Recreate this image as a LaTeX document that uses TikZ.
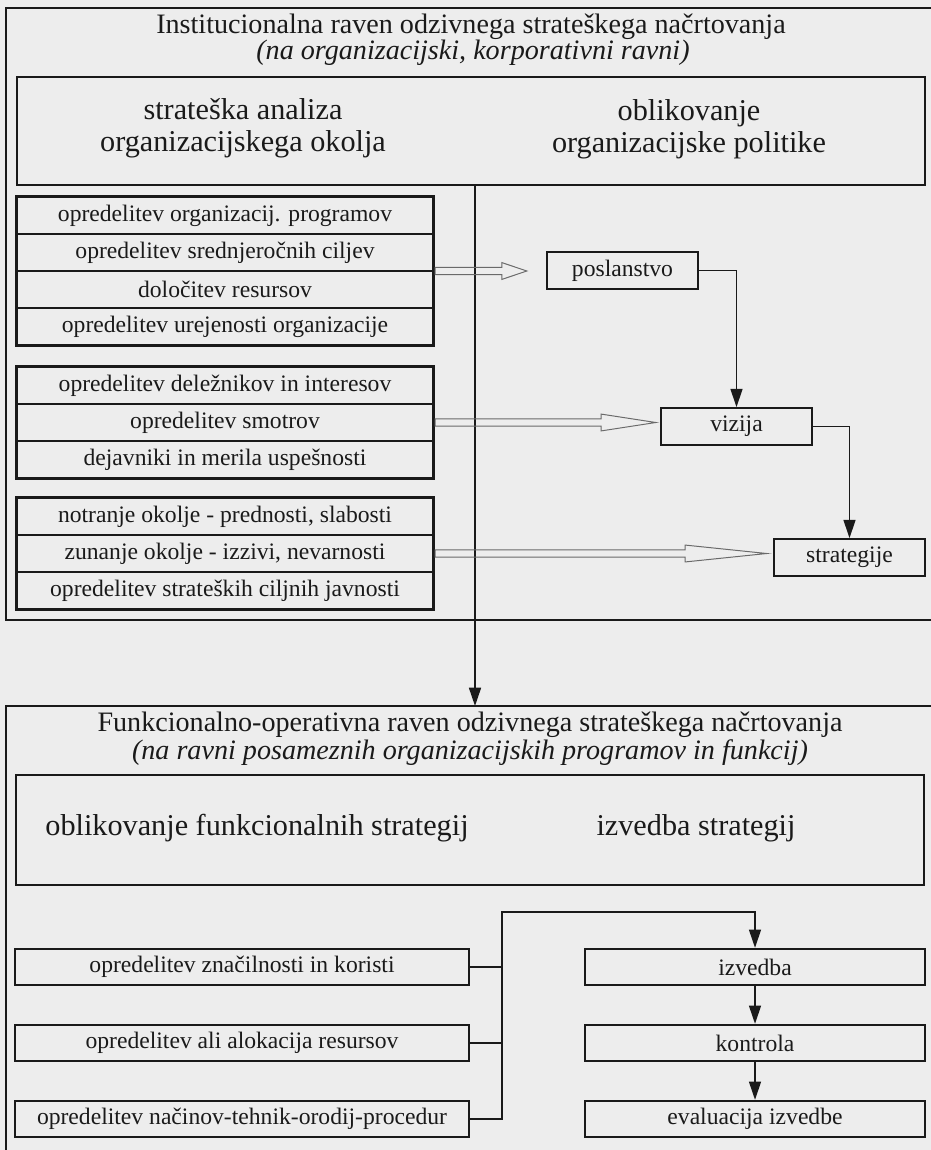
\documentclass[tikz,border=0pt]{standalone}
\usepackage{fontspec}
\setmainfont{Liberation Serif}
\usetikzlibrary{arrows.meta,positioning,calc,fit}
\definecolor{paper}{HTML}{EDEDED}
\definecolor{ink}{HTML}{1A1A1A}
\definecolor{hollowink}{HTML}{6A6A6A}
\newcommand{\rowfont}{\fontsize{16.8}{18}\selectfont}
\newcommand{\hdrfont}{\fontsize{21.5}{22.5}\selectfont}
\newcommand{\ttlfont}{\fontsize{20}{21}\selectfont}

\begin{document}
\begin{tikzpicture}[x=0.025cm, y=-0.025cm,
  row/.style={rectangle, draw=ink, line width=1pt, minimum width=10.4cm, minimum height=0.925cm, inner sep=0pt, font=\rowfont, text=ink},
  grp/.style={rectangle, draw=ink, line width=1.9pt, inner sep=0pt},
  pol/.style={rectangle, draw=ink, line width=1.7pt, minimum width=3.775cm, minimum height=0.91cm, inner sep=0pt, font=\rowfont, text=ink},
  fun/.style={rectangle, draw=ink, line width=1.7pt, minimum width=#1, minimum height=0.9cm, inner sep=0pt, font=\rowfont, text=ink},
  hdr/.style={rectangle, draw=ink, line width=1.4pt, minimum width=22.7cm, inner sep=0pt},
  lbl/.style={align=center, font=\hdrfont, text=ink},
  arr/.style={-{Triangle[length=13pt, width=8.5pt]}, draw=ink, line width=1.2pt},
  link/.style={draw=ink, line width=1.2pt},
  hollow/.style n args={2}{draw=hollowink, line width=0.7pt,
    to path={let \p1=(\tikztostart), \p2=(\tikztotarget) in
      (\x1,\y1+2.5pt) -- (\x2-#1-#2,\y1+2.5pt) -- (\x2-#1-#2,\y1+6pt) -- (\x2-#1,\y1)
      -- (\x2-#1-#2,\y1-6pt) -- (\x2-#1-#2,\y1-2.5pt) -- (\x1,\y1-2.5pt) -- cycle}}
]
  \useasboundingbox (0,0) rectangle (931,1150);
  \fill[paper] (0,0) rectangle (931,1150);
  \clip (0,0) rectangle (931,1150);

  % institucionalna raven
  \draw[ink, line width=1.3pt] (6,8) rectangle (950,620);
  \node[font=\ttlfont, text=ink] (ttl1) at (471,27) {Institucionalna raven odzivnega strateškega načrtovanja};
  \node[font=\ttlfont\itshape, text=ink] (sub1) at (473,53) {(na organizacijski, korporativni ravni)};
  \node[hdr, minimum height=2.7cm] (hdr1) at (471,131) {};
  \node[lbl] (ana) at (243,128) {strateška analiza\\organizacijskega okolja};
  \node[lbl] (pol) at (689,129) {oblikovanje\\organizacijske politike};

  \node[row] (a1) at (225,215.5) {opredelitev organizacij. programov};
  \node[row] (a2) at (225,252.5) {opredelitev srednjeročnih ciljev};
  \node[row] (a3) at (225,289.5) {določitev resursov};
  \node[row] (a4) at (225,326.5) {opredelitev urejenosti organizacije};
  \node[grp, fit=(a1)(a4)] (g1) {};

  \node[row] (b1) at (225,385.5) {opredelitev deležnikov in interesov};
  \node[row] (b2) at (225,422.5) {opredelitev smotrov};
  \node[row] (b3) at (225,459.5) {dejavniki in merila uspešnosti};
  \node[grp, fit=(b1)(b3)] (g2) {};

  \node[row] (c1) at (225,516.5) {notranje okolje - prednosti, slabosti};
  \node[row] (c2) at (225,553.5) {zunanje okolje - izzivi, nevarnosti};
  \node[row] (c3) at (225,590.5) {opredelitev strateških ciljnih javnosti};
  \node[grp, fit=(c1)(c3)] (g3) {};

  \node[pol] (posl) at (622.5,270.5) {poslanstvo};
  \node[pol] (viz) at (736.5,426.5) {vizija};
  \node[pol] (strat) at (849.5,557.5) {strategije};

  \coordinate (down) at (475,706);
  \draw[arr] (hdr1.south -| down) -- (down);

  \draw[hollow={13.5pt}{17.8pt}] (g1.east) to (posl.west);
  \draw[hollow={2.8pt}{39pt}] (g2.east) to (viz.west);
  \draw[hollow={4.3pt}{58pt}] (g3.east) to (strat.west);

  \draw[arr] (posl.east) -| (viz.north);
  \draw[arr] (viz.east) -| (strat.north);

  % funkcionalno-operativna raven
  \draw[ink, line width=1.3pt] (6,706) rectangle (950,1170);
  \node[font=\ttlfont, text=ink] (ttl2) at (470,725) {Funkcionalno-operativna raven odzivnega strateškega načrtovanja};
  \node[font=\ttlfont\itshape, text=ink] (sub2) at (470,753) {(na ravni posameznih organizacijskih programov in funkcij)};
  \node[hdr, minimum height=2.75cm] (hdr2) at (470,830) {};
  \node[lbl] (obl) at (257,828) {oblikovanje funkcionalnih strategij};
  \node[lbl] (izs) at (696,828) {izvedba strategij};

  \node[fun=11.35cm] (f1) at (242,967) {opredelitev značilnosti in koristi};
  \node[fun=11.35cm] (f2) at (242,1043) {opredelitev ali alokacija resursov};
  \node[fun=11.35cm] (f3) at (242,1119) {opredelitev načinov-tehnik-orodij-procedur};

  \node[fun=8.5cm] (izv) at (755,967) {izvedba};
  \node[fun=8.5cm] (kon) at (755,1043) {kontrola};
  \node[fun=8.5cm] (eva) at (755,1119) {evaluacija izvedbe};

  \coordinate (bus) at (502,912);
  \draw[link] (f1.east) -- (f1.east -| bus);
  \draw[link] (f2.east) -- (f2.east -| bus);
  \draw[arr] (f3.east) -| (bus) -| (izv.north);
  \draw[arr] (izv) -- (kon);
  \draw[arr] (kon) -- (eva);
\end{tikzpicture}
\end{document}
